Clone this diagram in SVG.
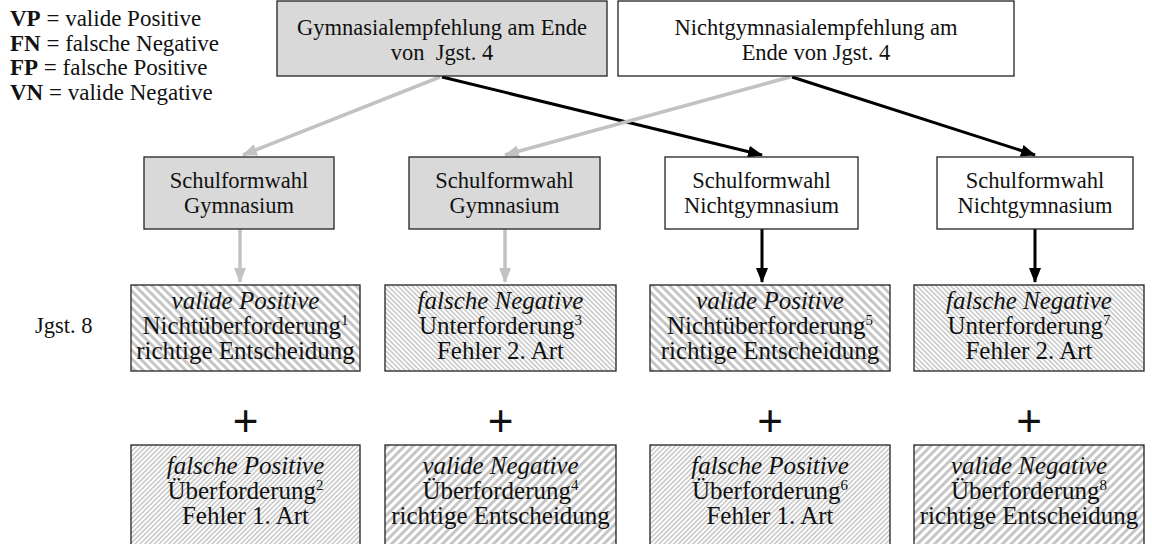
<svg xmlns="http://www.w3.org/2000/svg" width="1152" height="544" viewBox="0 0 1152 544">
  <style>
    text { font-family: "Liberation Serif", "Times New Roman", serif; fill: #111; }
    .legend { font-size: 23px; }
    .legend .b { font-weight: bold; }
    .lbl { font-size: 22.5px; text-anchor: middle; }
    .res { font-size: 25px; text-anchor: middle; }
    .it { font-style: italic; }
    .sup { font-size: 15px; }
    .plus { font-family: "Liberation Sans", Arial, sans-serif; font-size: 44px; text-anchor: middle; }
    .box { stroke: #222; stroke-width: 1.3; }
    .grey { fill: #d9d9d9; }
    .white { fill: #ffffff; }
    .g-line { stroke: #c2c2c2; stroke-width: 3.5; fill: none; }
    .k-line { stroke: #000; stroke-width: 3; fill: none; }
  </style>
  <defs>
    <!-- diagonal hatch fills: wide / narrow, falling (\) / rising (/) -->
    <pattern id="wideFall" patternUnits="userSpaceOnUse" width="6" height="6" patternTransform="rotate(-45)">
      <rect width="6" height="6" fill="#fff"/>
      <rect width="3" height="6" fill="#c6c6c6"/>
    </pattern>
    <pattern id="narrowFall" patternUnits="userSpaceOnUse" width="3.4" height="3.4" patternTransform="rotate(-45)">
      <rect width="3.4" height="3.4" fill="#fff"/>
      <rect width="1.5" height="3.4" fill="#c6c6c6"/>
    </pattern>
    <pattern id="wideRise" patternUnits="userSpaceOnUse" width="6" height="6" patternTransform="rotate(45)">
      <rect width="6" height="6" fill="#fff"/>
      <rect width="3" height="6" fill="#c6c6c6"/>
    </pattern>
    <pattern id="narrowRise" patternUnits="userSpaceOnUse" width="3.4" height="3.4" patternTransform="rotate(45)">
      <rect width="3.4" height="3.4" fill="#fff"/>
      <rect width="1.5" height="3.4" fill="#c6c6c6"/>
    </pattern>
    <marker id="headGrey" markerUnits="userSpaceOnUse" markerWidth="15" markerHeight="12" refX="14" refY="6" orient="auto">
      <path d="M0,0 L15,6 L0,12 Z" fill="#c2c2c2"/>
    </marker>
    <marker id="headBlack" markerUnits="userSpaceOnUse" markerWidth="15" markerHeight="12" refX="14" refY="6" orient="auto">
      <path d="M0,0 L15,6 L0,12 Z" fill="#000"/>
    </marker>
  </defs>

  <rect width="1152" height="544" fill="#fff"/>

  <!-- legend -->
  <g id="legend" class="legend">
    <text x="10" y="26"><tspan class="b">VP</tspan> = valide Positive</text>
    <text x="10" y="51"><tspan class="b">FN</tspan> = falsche Negative</text>
    <text x="10" y="75"><tspan class="b">FP</tspan> = falsche Positive</text>
    <text x="10" y="100"><tspan class="b">VN</tspan> = valide Negative</text>
  </g>

  <g id="grade8">
    <text x="35" y="333" style="font-size:22.5px">Jgst. 8</text>
  </g>

  <!-- connectors -->
  <g id="connectors">
    <line class="g-line" x1="440" y1="77" x2="243" y2="155" marker-end="url(#headGrey)"/>
    <line class="k-line" x1="442" y1="77" x2="762" y2="155" marker-end="url(#headBlack)"/>
    <line class="g-line" x1="790" y1="77" x2="505" y2="155" marker-end="url(#headGrey)"/>
    <line class="k-line" x1="792" y1="77" x2="1035" y2="155" marker-end="url(#headBlack)"/>
    <line class="g-line" x1="240" y1="229" x2="240" y2="282" marker-end="url(#headGrey)"/>
    <line class="g-line" x1="505" y1="229" x2="505" y2="282" marker-end="url(#headGrey)"/>
    <line class="k-line" x1="762" y1="229" x2="762" y2="282" marker-end="url(#headBlack)"/>
    <line class="k-line" x1="1035" y1="229" x2="1035" y2="282" marker-end="url(#headBlack)"/>
  </g>

  <!-- recommendations at the end of grade 4 -->
  <g id="rec-gym">
    <rect class="box grey" x="277" y="1" width="330" height="75"/>
    <text class="lbl" x="442" y="35">Gymnasialempfehlung am Ende</text>
    <text class="lbl" x="442" y="60">von&#160; Jgst. 4</text>
  </g>
  <g id="rec-nongym">
    <rect class="box white" x="618" y="1" width="396" height="75"/>
    <text class="lbl" x="816" y="35">Nichtgymnasialempfehlung am</text>
    <text class="lbl" x="816" y="60">Ende von Jgst. 4</text>
  </g>

  <!-- school type choice -->
  <g id="choice-a">
    <rect class="box grey" x="144" y="157" width="190" height="72"/>
    <text class="lbl" x="239" y="188">Schulformwahl</text>
    <text class="lbl" x="239" y="213">Gymnasium</text>
  </g>
  <g id="choice-b">
    <rect class="box grey" x="409" y="157" width="191" height="72"/>
    <text class="lbl" x="504.5" y="188">Schulformwahl</text>
    <text class="lbl" x="504.5" y="213">Gymnasium</text>
  </g>
  <g id="choice-c">
    <rect class="box white" x="665" y="157" width="193" height="72"/>
    <text class="lbl" x="761.5" y="188">Schulformwahl</text>
    <text class="lbl" x="761.5" y="213">Nichtgymnasium</text>
  </g>
  <g id="choice-d">
    <rect class="box white" x="937" y="157" width="196" height="72"/>
    <text class="lbl" x="1035" y="188">Schulformwahl</text>
    <text class="lbl" x="1035" y="213">Nichtgymnasium</text>
  </g>

  <!-- outcomes, first row -->
  <g id="out-1">
    <rect class="box" fill="url(#wideFall)" x="131" y="285" width="229" height="86"/>
    <text class="res it" x="245.5" y="309">valide Positive</text>
    <text class="res" x="245.5" y="334">Nichtüberforderung<tspan class="sup" dy="-9">1</tspan></text>
    <text class="res" x="245.5" y="359">richtige Entscheidung</text>
  </g>
  <g id="out-3">
    <rect class="box" fill="url(#narrowFall)" x="385" y="285" width="231" height="86"/>
    <text class="res it" x="500.5" y="309">falsche Negative</text>
    <text class="res" x="500.5" y="334">Unterforderung<tspan class="sup" dy="-9">3</tspan></text>
    <text class="res" x="500.5" y="359">Fehler 2. Art</text>
  </g>
  <g id="out-5">
    <rect class="box" fill="url(#wideFall)" x="650" y="285" width="240" height="86"/>
    <text class="res it" x="770" y="309">valide Positive</text>
    <text class="res" x="770" y="334">Nichtüberforderung<tspan class="sup" dy="-9">5</tspan></text>
    <text class="res" x="770" y="359">richtige Entscheidung</text>
  </g>
  <g id="out-7">
    <rect class="box" fill="url(#narrowFall)" x="914" y="285" width="230" height="86"/>
    <text class="res it" x="1029" y="309">falsche Negative</text>
    <text class="res" x="1029" y="334">Unterforderung<tspan class="sup" dy="-9">7</tspan></text>
    <text class="res" x="1029" y="359">Fehler 2. Art</text>
  </g>

  <!-- plus signs -->
  <g id="plus-signs">
    <text class="plus" x="245.5" y="436">+</text>
    <text class="plus" x="500.5" y="436">+</text>
    <text class="plus" x="770" y="436">+</text>
    <text class="plus" x="1029" y="436">+</text>
  </g>

  <!-- outcomes, second row -->
  <g id="out-2">
    <rect class="box" fill="url(#narrowRise)" x="131" y="445" width="229" height="110"/>
    <text class="res it" x="245.5" y="474">falsche Positive</text>
    <text class="res" x="245.5" y="499">Überforderung<tspan class="sup" dy="-9">2</tspan></text>
    <text class="res" x="245.5" y="524">Fehler 1. Art</text>
  </g>
  <g id="out-4">
    <rect class="box" fill="url(#wideRise)" x="385" y="445" width="231" height="110"/>
    <text class="res it" x="500.5" y="474">valide Negative</text>
    <text class="res" x="500.5" y="499">Überforderung<tspan class="sup" dy="-9">4</tspan></text>
    <text class="res" x="500.5" y="524">richtige Entscheidung</text>
  </g>
  <g id="out-6">
    <rect class="box" fill="url(#narrowRise)" x="650" y="445" width="240" height="110"/>
    <text class="res it" x="770" y="474">falsche Positive</text>
    <text class="res" x="770" y="499">Überforderung<tspan class="sup" dy="-9">6</tspan></text>
    <text class="res" x="770" y="524">Fehler 1. Art</text>
  </g>
  <g id="out-8">
    <rect class="box" fill="url(#wideRise)" x="914" y="445" width="230" height="110"/>
    <text class="res it" x="1029" y="474">valide Negative</text>
    <text class="res" x="1029" y="499">Überforderung<tspan class="sup" dy="-9">8</tspan></text>
    <text class="res" x="1029" y="524">richtige Entscheidung</text>
  </g>
</svg>
